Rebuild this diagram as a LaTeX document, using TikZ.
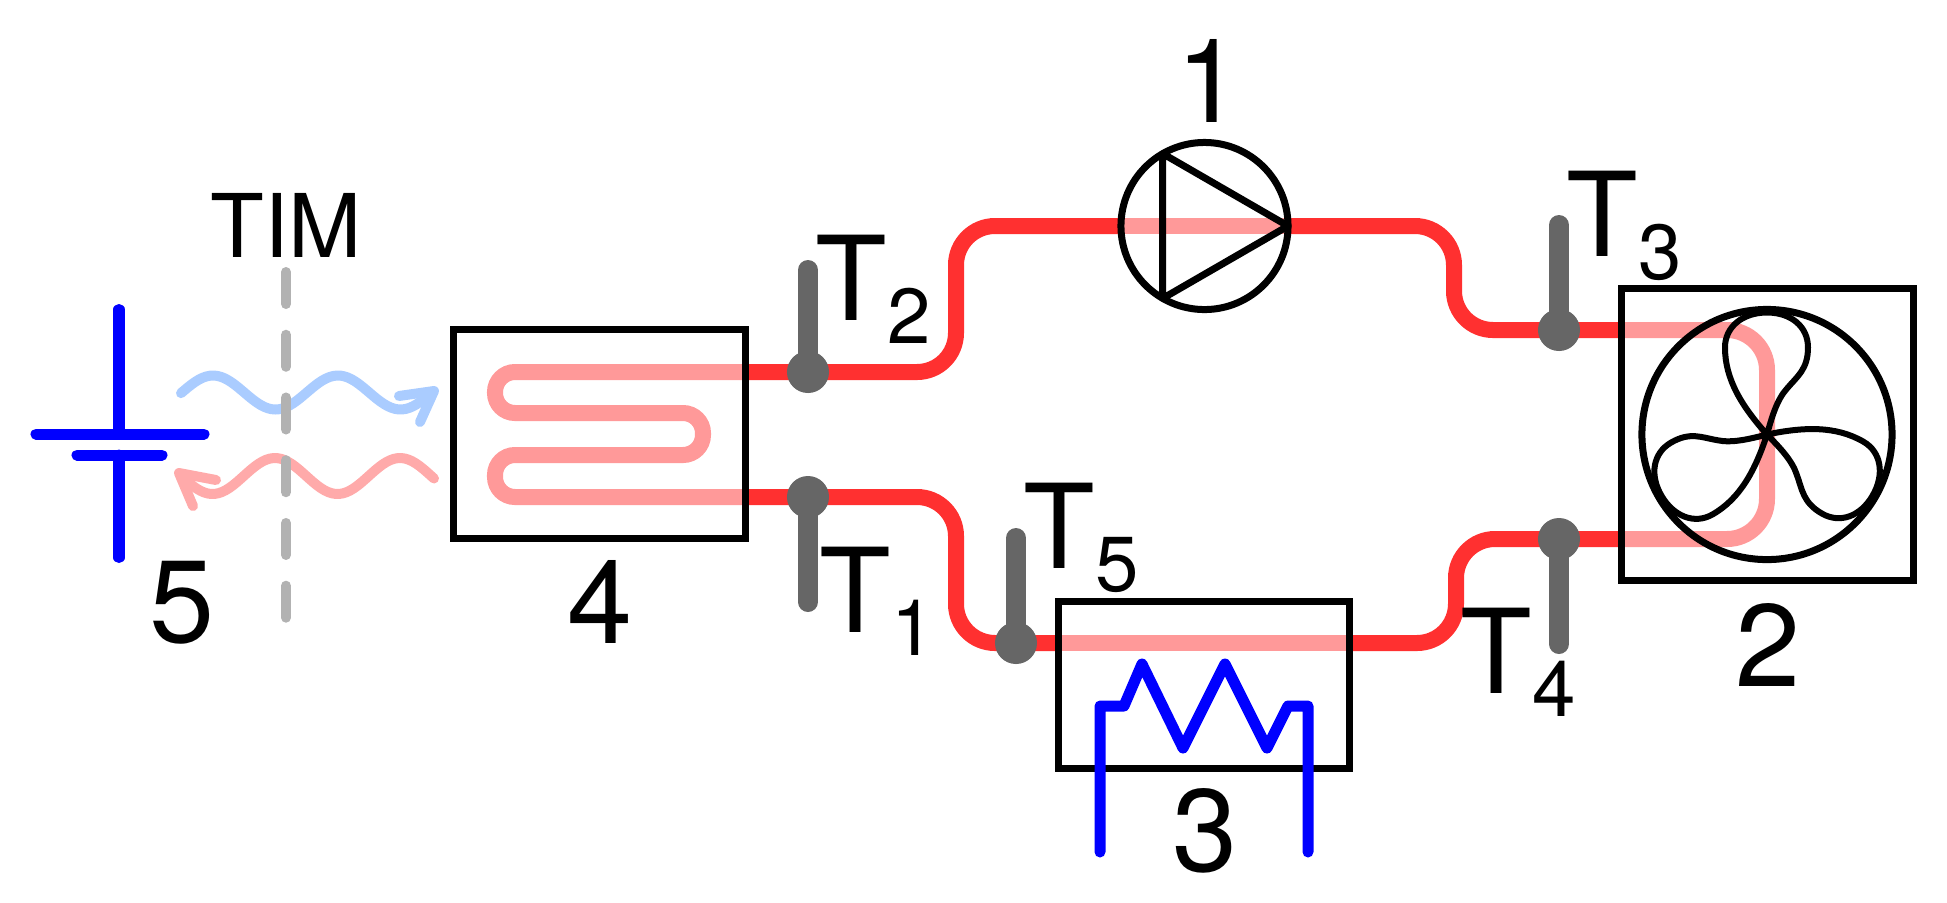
\documentclass[tikz,border=0pt]{standalone}
\usepackage{fontspec}
\setmainfont{TeX Gyre Heros}
\usetikzlibrary{backgrounds}

\definecolor{pipered}{HTML}{FF3030}
\definecolor{pipepink}{HTML}{FF9999}
\definecolor{sensorgray}{HTML}{666666}
\definecolor{timgray}{HTML}{B2B2B2}
\definecolor{waveblue}{HTML}{AACCFF}
\definecolor{wavepink}{HTML}{FFAAAA}
\definecolor{coilblue}{HTML}{0000FF}

\newcommand{\sensorlab}[1]{T\raisebox{-2.3mm}{\fontsize{22.2}{26}\selectfont #1}}

\tikzset{
	unitbox/.style={draw=black,line width=0.7mm,inner sep=0pt,outer sep=0pt},
	unitround/.style={unitbox,circle},
	pipe/.style={draw=pipered,line width=1.6mm,rounded corners=3.9mm},
	pipein/.style={draw=pipepink,line width=1.6mm,rounded corners=2mm},
	sensor/.style={draw=sensorgray,line width=2mm,line cap=round},
	coil/.style={draw=coilblue,line width=1.1mm,line cap=round,line join=round},
	wave/.style={line width=1mm,line cap=round,line join=round},
	numlab/.style={font=\fontsize{33.3}{40}\selectfont,inner sep=0pt,anchor=base},
	templab/.style={font=\fontsize{33.3}{40}\selectfont,inner sep=0pt,anchor=base west}
}

\begin{document}
\begin{tikzpicture}[x=0.01cm,y=-0.01cm]
	\useasboundingbox (0,0) rectangle (1947,902);
	
	% units
	\node [unitround,minimum size=16.7mm] (pump) at (1204.5,226) {};
	\node [unitbox,minimum width=29.15mm,minimum height=29.15mm] (cooler) at (1767.25,434.25) {};
	\node [unitround,minimum size=25mm] (fan) at (1767,434.5) {};
	\node [unitbox,minimum width=29mm,minimum height=16.65mm] (heater) at (1204,684.75) {};
	\node [unitbox,minimum width=29.1mm,minimum height=20.8mm] (plate) at (599.5,434) {};
	
	\draw [line width=0.7mm,line join=round] (pump.120) -- (pump.240) -- (pump.east) -- cycle;
	
	\foreach \a in {0,120,240} {
		\begin{scope}[shift={(fan.center)},rotate=\a]
			\draw [line width=0.6mm] (0,0) .. controls (-25,-28) and (-42,-55) .. (-42,-87)
				.. controls (-42,-108) and (-24,-122) .. (0,-122)
				.. controls (24,-122) and (41,-108) .. (41,-87)
				.. controls (41,-65) and (30,-58) .. (20,-46)
				.. controls (10,-35) and (5,-18) .. (0,0);
		\end{scope}
	}
	
	% pipe junctions
	\coordinate (t1) at (808,497);
	\coordinate (t2) at (808,372);
	\coordinate (t3) at (1559,330);
	\coordinate (t4) at (1559,539);
	\coordinate (t5) at (1016,643);
	\coordinate (riserA) at (956,300);
	\coordinate (riserB) at (1454,280);
	\coordinate (riserC) at (956,570);
	\coordinate (riserD) at (1456,590);
	\coordinate (fanbend) at (1767,434);
	
	\begin{pgfonlayer}{background}
		\draw [pipe] (plate.east |- t2) -- (riserA |- t2) -- (riserA |- pump.west) -- (pump.west);
		\draw [pipe] (pump.east) -- (riserB |- pump.east) -- (riserB |- t3) -- (cooler.west |- t3);
		\draw [pipe] (plate.east |- t1) -- (riserC |- t1) -- (riserC |- t5) -- (heater.west |- t5);
		\draw [pipe] (heater.east |- t5) -- (riserD |- t5) -- (riserD |- t4) -- (cooler.west |- t4);
		
		\draw [pipein] (pump.west) -- (pump.east);
		\draw [pipein] (heater.west |- t5) -- (heater.east |- t5);
		\draw [pipein,rounded corners=4mm] (cooler.west |- t3) -- (fanbend |- t3) -- (fanbend |- t4) -- (cooler.west |- t4);
		\draw [pipein] (plate.east |- t2) -- (495,372) -- (495,413) -- (703,413)
			-- (703,455) -- (495,455) -- (495,497) -- (plate.east |- t1);
	\end{pgfonlayer}
	
	% temperature sensors
	\foreach \s/\e in {t1/602,t2/270,t3/225,t4/644,t5/538} {
		\draw [sensor] (\s) -- (\s |- 0,\e);
		\fill [sensorgray] (\s) circle (2.1mm);
	}
	
	% coil in heater
	\draw [coil] (1100,852) -- (1100,706) -- (1124,706) -- (1142,664) -- (1183,748)
		-- (1225,664) -- (1267,748) -- (1288,706) -- (1308,706) -- (1308,852);
	
	% cell
	\draw [coil] (119,309.5) -- (119,434);
	\draw [coil] (119,455) -- (119,557.5);
	\draw [coil] (36,434) -- (204,434);
	\draw [coil] (77,455) -- (162,455);
	
	% heat flow
	\draw [wave,waveblue] plot [domain=181:431,samples=70] (\x,{392.5-17*cos((\x-213)*2.88)});
	\draw [wave,waveblue] (399,396) -- (434,391) -- (420,422);
	\draw [wave,wavepink] plot [domain=182:434,samples=70] (\x,{476-18*cos((\x-400)*2.88)});
	\draw [wave,wavepink] (216,480) -- (179,473) -- (193,506);
	
	% interface
	\draw [draw=timgray,line width=1mm,line cap=round,dash pattern=on 3.2mm off 3.07mm] (286,272) -- (286,618);
	
	% labels
	\node [font=\fontsize{25}{30}\selectfont,inner sep=0pt,anchor=base] (timlab) at (286,257) {TIM};
	\node [numlab] (lab1) at (1209,122) {1};
	\node [numlab] (lab2) at (1768,686) {2};
	\node [numlab] (lab3) at (1205,871) {3};
	\node [numlab] (lab4) at (600,643) {4};
	\node [numlab] (lab5) at (182,642) {5};
	\node [templab] (labt1) at (819,632) {\sensorlab{1}};
	\node [templab] (labt2) at (815,320) {\sensorlab{2}};
	\node [templab] (labt3) at (1566,256) {\sensorlab{3}};
	\node [templab] (labt4) at (1460,693) {\sensorlab{4}};
	\node [templab] (labt5) at (1023,568) {\sensorlab{5}};
	
\end{tikzpicture}
\end{document}
